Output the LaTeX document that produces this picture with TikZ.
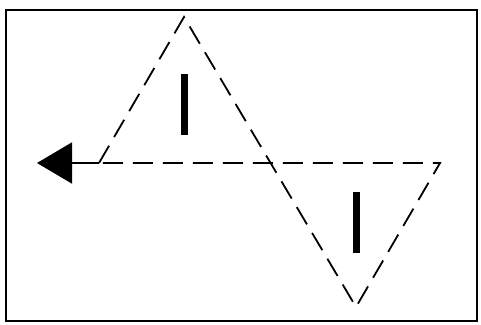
\documentclass[tikz,border=0pt]{standalone}
\usetikzlibrary{arrows.meta}
\begin{document}
\begin{tikzpicture}[x=1pt,y=-1pt,
  dashline/.style={line width=1.8pt,dash pattern=on 20pt off 10pt},
  bar/.style={fill=black,draw=none,inner sep=0pt,minimum width=7pt,minimum height=61pt}]
\useasboundingbox (0,0) rectangle (481,324);
\fill[white] (0,0) rectangle (481,324);
\draw[line width=2.5pt] (6,10) rectangle (477,321);
\coordinate (A) at (99,163);
\coordinate (T) at (184,17);
\coordinate (R) at (440,163);
\coordinate (B) at (356,307);
\coordinate (L) at (37,163);
\draw[dashline] (A) -- (T) -- (B) -- (R) -- (A);
\draw[line width=1.8pt,-{Triangle[length=35pt,width=41pt]}] (A) -- (L);
\node[bar] (b1) at (184,104.5) {};
\node[bar] (b2) at (356,222.5) {};
\end{tikzpicture}
\end{document}
